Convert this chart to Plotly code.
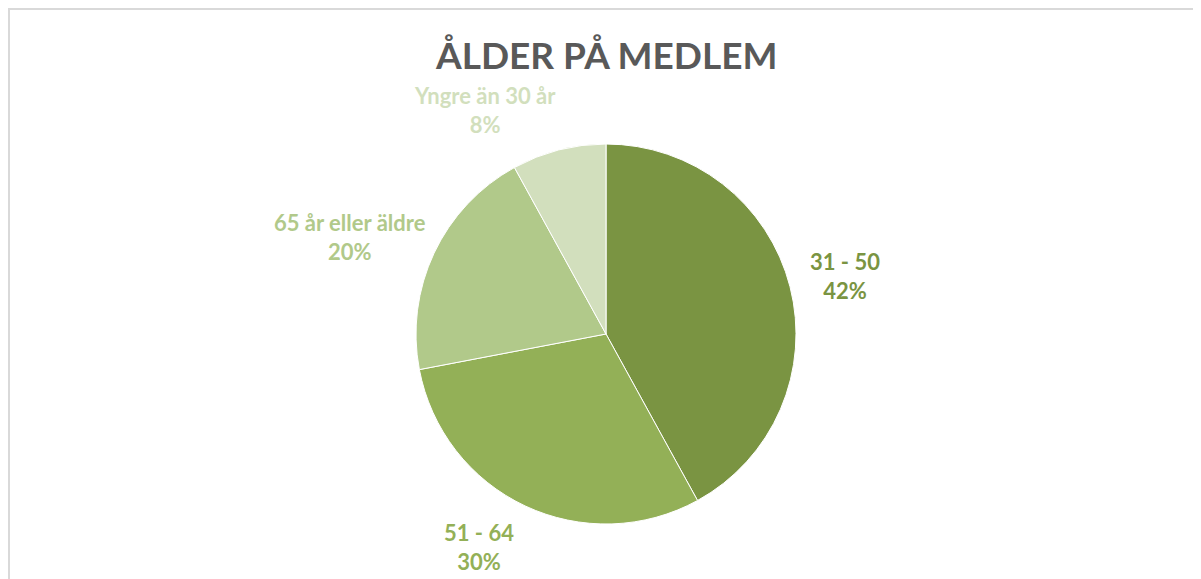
import numpy as np
import plotly.graph_objects as go

categories = ["31 - 50", "51 - 64", "65 år eller äldre", "Yngre än 30 år"]
values = [42, 30, 20, 8]
colors = ["#7a9442", "#93b057", "#b1c98a", "#d2dfbd"]
title = "ÅLDER PÅ MEDLEM"

# page body has an 8px margin; work in window pixels and convert
OFF = 8
W, H = 1201 - OFF, 579 - OFF
cx_px, cy_px, r_px = 606 - OFF, 334 - OFF, 190

def px(x):
    return (x - OFF) / W if False else x / W

fig = go.Figure(go.Pie(
    labels=categories, values=values, sort=False, direction="clockwise",
    rotation=0, marker=dict(colors=colors, line=dict(color="white", width=1)),
    textinfo="none", hoverinfo="label+percent", showlegend=False,
    domain=dict(x=[(cx_px - r_px) / W, (cx_px + r_px) / W],
                y=[1 - (cy_px + r_px) / H, 1 - (cy_px - r_px) / H]),
))

# label positions derived from the slice angles, with small nudges (pixels)
label_nudge = [(0, -3), (-22, 10), (-33, -8), (-60, -15)]
vals = np.array(values, dtype=float)
frac = vals / vals.sum()
mid = (np.cumsum(frac) - frac / 2) * 2 * np.pi
dist = 1.3 * r_px
for lab, f, a, c, (nx, ny) in zip(categories, frac, mid, colors, label_nudge):
    x = (cx_px + dist * np.sin(a)) / W
    y = 1 - (cy_px - dist * np.cos(a)) / H
    fig.add_annotation(x=x, y=y, xref="paper", yref="paper", showarrow=False,
                       xshift=nx, yshift=ny,
                       text=f"{lab}<br>{round(f*100)}%",
                       font=dict(family="Lato, Open Sans, sans-serif", size=22, color=c, weight="bold"),
                       align="center", xanchor="center", yanchor="middle")

fig.add_annotation(x=(606 - OFF) / W, y=1 - (54 - OFF) / H, xref="paper", yref="paper", showarrow=False,
                   text=title, xanchor="center", yanchor="middle",
                   font=dict(family="Lato, Open Sans, sans-serif", size=37, color="#595959", weight="bold"))

fig.add_shape(type="rect", xref="paper", yref="paper",
              x0=(8 - OFF) / W + 1 / W, x1=1 + 10 / W, y0=-10 / H, y1=1 - (8 - OFF) / H - 1 / H,
              line=dict(color="#d9d9d9", width=2), fillcolor="rgba(0,0,0,0)")

fig.update_layout(width=W, height=H, margin=dict(l=0, r=0, t=0, b=0),
                  paper_bgcolor="white", plot_bgcolor="white")
fig.write_html("out.html")
